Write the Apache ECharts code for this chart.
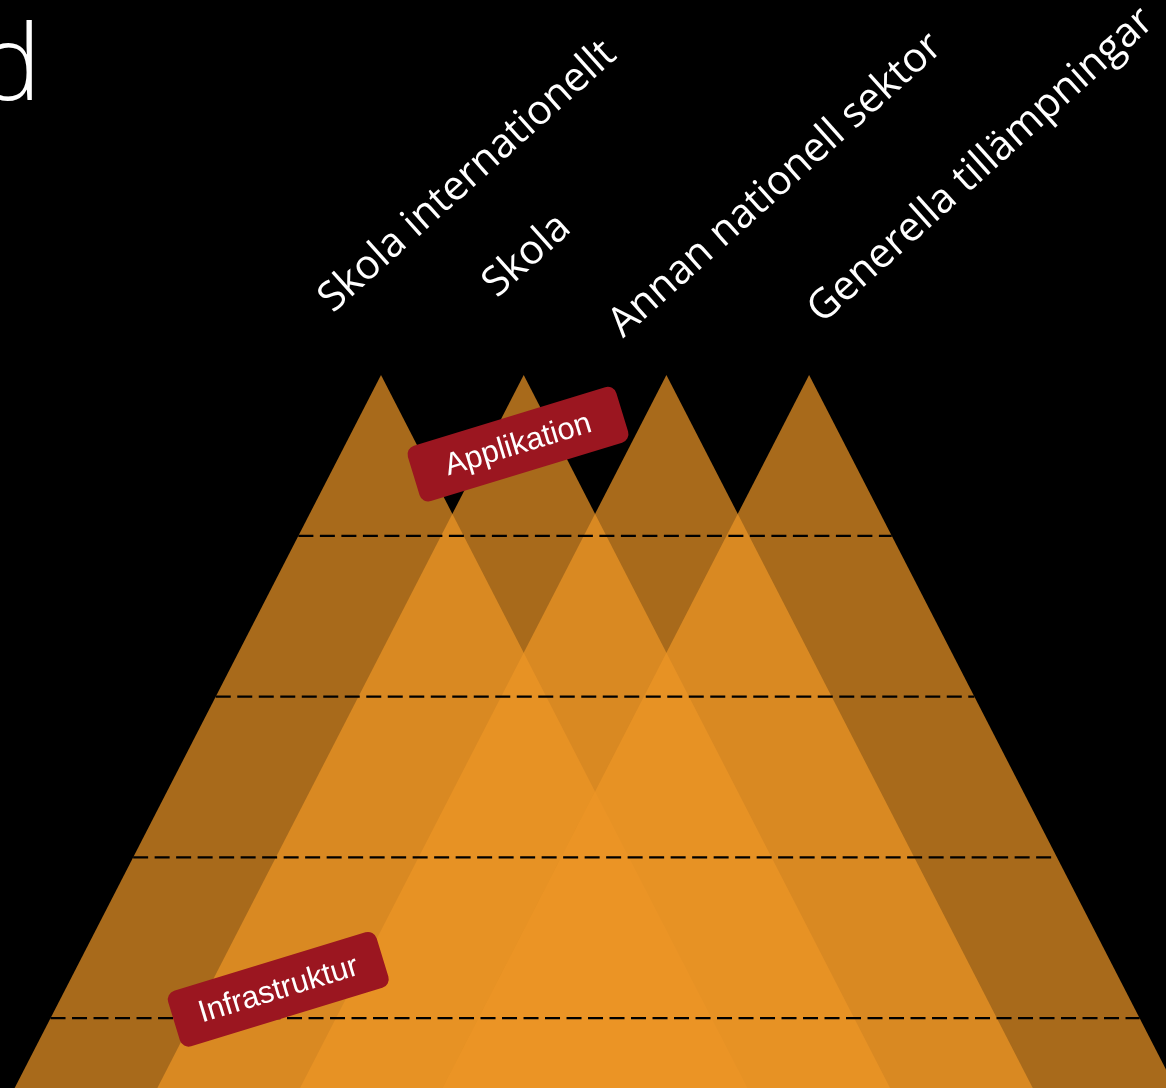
<!DOCTYPE html>
<html><head><meta charset="utf-8">
<script src="https://cdn.jsdelivr.net/npm/echarts@6/dist/echarts.min.js"></script>
<style>html,body{margin:0;padding:0;background:#000;}#c{width:1166px;height:1088px;}</style>
</head><body><div id="c"></div>
<script>
// ---- data ----
const categories = ['Skola internationellt', 'Skola', 'Annan nationell sektor', 'Generella tillämpningar'];
const apexPositions = [1, 2, 3, 4];          // pyramid peaks along the x scale
const apexLevels = [0, 0, 0, 0];             // peak level (depth scale)
const layerLevels = [1, 2, 3, 4];            // dashed layer boundaries
const badgeTexts = ['Applikation', 'Infrastruktur'];
const badgeX = [1.96, 0.28];
const badgeLevels = [0.43, 3.82];
const titleText = 'd';

// ---- layout / style ----
const X_MIN = -1.670, X_MAX = 6.501;
const Y_MIN = -2.332, Y_MAX = 4.434;
const HALF = 0.579;          // half width (x units) per level of depth
const BASE = Y_MAX;
const labelAnchors = [[339, 320], [503, 305], [629, 345], [828, 331]];
const LABEL_ROT = 42 * Math.PI / 180;
const BADGE_ROT = 17 * Math.PI / 180;

const chart = echarts.init(document.getElementById('c'));
const minApex = Math.min.apply(null, apexPositions);
const maxApex = Math.max.apply(null, apexPositions);

chart.setOption({
  backgroundColor: '#000',
  animation: false,
  grid: { left: 0, right: 0, top: 0, bottom: 0 },
  xAxis: { type: 'value', min: X_MIN, max: X_MAX, show: false },
  yAxis: { type: 'value', inverse: true, min: Y_MIN, max: Y_MAX, show: false },
  series: [
    {
      type: 'custom', silent: true, z: 1, clip: true,
      data: apexPositions.map((x, i) => [x, apexLevels[i]]),
      renderItem: function (params, api) {
        const x = api.value(0), top = api.value(1);
        const h = BASE - top;
        const a = api.coord([x, top]);
        const l = api.coord([x - HALF * h, BASE]);
        const r = api.coord([x + HALF * h, BASE]);
        return { type: 'polygon', shape: { points: [a, l, r] }, style: { fill: 'rgba(237,149,38,0.71)' } };
      }
    },
    {
      type: 'custom', silent: true, z: 2, clip: true,
      data: layerLevels.map(L => [(minApex + maxApex) / 2, L]),
      renderItem: function (params, api) {
        const L = api.value(1);
        const p1 = api.coord([minApex - HALF * L, L]);
        const p2 = api.coord([maxApex + HALF * L, L]);
        return { type: 'line', shape: { x1: p1[0], y1: p1[1], x2: p2[0], y2: p2[1] },
          style: { stroke: '#000', lineWidth: 2.2, lineDash: [15, 6.5] } };
      }
    },
    {
      type: 'custom', silent: true, z: 3, clip: false,
      data: badgeX.map((x, i) => [x, badgeLevels[i], i]),
      renderItem: function (params, api) {
        const p = api.coord([api.value(0), api.value(1)]);
        const t = badgeTexts[api.value(2)];
        return {
          type: 'group', x: p[0], y: p[1], rotation: BADGE_ROT,
          children: [
            { type: 'rect', shape: { x: -109, y: -29, width: 218, height: 58, r: 9 }, style: { fill: '#9B1620' } },
            { type: 'text', style: { text: t, x: 0, y: 1, align: 'center', verticalAlign: 'middle', fill: '#fff',
              fontSize: 31, fontFamily: '"Liberation Sans", Arial, sans-serif' } }
          ]
        };
      }
    }
  ],
  graphic: categories.map((c, i) => ({
    type: 'text', x: labelAnchors[i][0], y: labelAnchors[i][1], rotation: LABEL_ROT, silent: true,
    style: { text: c, fill: '#fff', fontSize: 41, fontFamily: '"Open Sans", "Noto Sans", sans-serif',
      align: 'left', verticalAlign: 'bottom' }
  })).concat([{
    type: 'text', x: -22, y: 70, silent: true,
    style: { text: titleText, fill: '#fff', fontSize: 106, fontWeight: 300,
      fontFamily: '"Open Sans", "Noto Sans", sans-serif', align: 'left', verticalAlign: 'middle' }
  }])
});
</script></body></html>
